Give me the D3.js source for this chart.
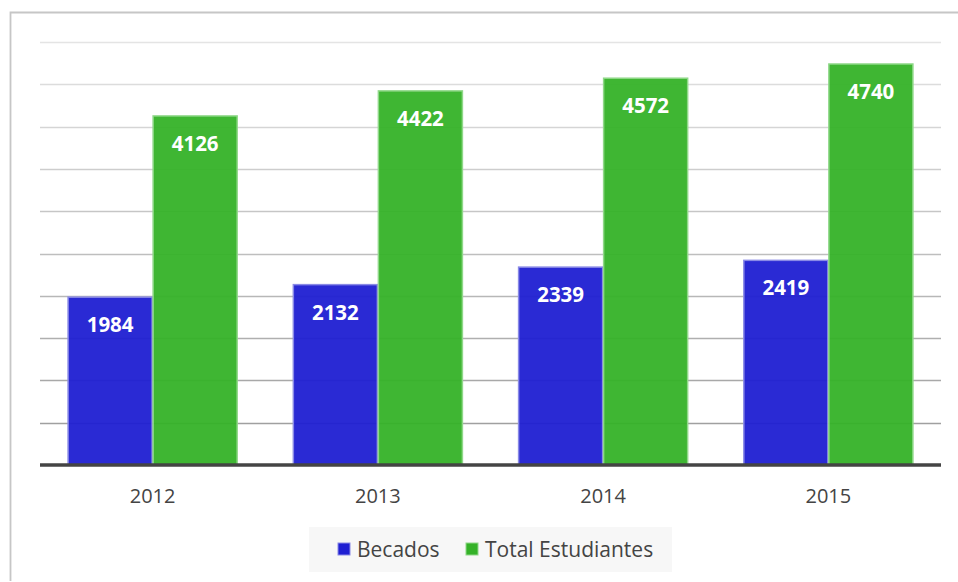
<!DOCTYPE html>
<html>
<head>
<meta charset="utf-8">
<script src="https://cdn.jsdelivr.net/npm/d3@7"></script>
<style>
  html, body { margin: 0; padding: 0; background: #fff; }
  svg { display: block; font-family: "Open Sans", "Noto Sans", sans-serif; }
</style>
</head>
<body>
<svg id="chart" width="958" height="582"></svg>
<script>
// Students with scholarships vs. total students per year
const years = ["2012", "2013", "2014", "2015"];
const becados = [1984, 2132, 2339, 2419];
const totalEstudiantes = [4126, 4422, 4572, 4740];
const seriesNames = ["Becados", "Total Estudiantes"];
const seriesColors = ["#1f1fd2", "#35b228"];
const yTicks = [500, 1000, 1500, 2000, 2500, 3000, 3500, 4000, 4500, 5000];

const series = [becados, totalEstudiantes];

const svg = d3.select("#chart");
const W = 958, H = 582;
const plot = { left: 40, right: 941, top: 42, bottom: 465 };

// outer frame (top and left edges visible)
svg.append("path")
  .attr("d", `M10.5,${H - 1} V12.5 H${W}`)
  .attr("fill", "none")
  .attr("stroke", "#c6c6c6")
  .attr("stroke-width", 1.8);

const x0 = d3.scaleBand()
  .domain(years)
  .range([plot.left, plot.right])
  .paddingInner(0.245)
  .paddingOuter(0.1225);

const x1 = d3.scaleBand()
  .domain(seriesNames)
  .range([0, x0.bandwidth()]);

const y = d3.scaleLinear()
  .domain([0, 5000])
  .range([plot.bottom, plot.top]);

// horizontal grid, getting darker toward the baseline
const gridColor = d3.scaleLinear()
  .domain([5000, 500])
  .range(["#e4e4e4", "#a0a0a0"]);

svg.append("g")
  .selectAll("line")
  .data(yTicks)
  .join("line")
  .attr("x1", plot.left)
  .attr("x2", plot.right)
  .attr("y1", d => Math.round(y(d)) + 0.5)
  .attr("y2", d => Math.round(y(d)) + 0.5)
  .attr("stroke", d => gridColor(d))
  .attr("stroke-width", 1.5);

// bars
const groups = svg.append("g")
  .selectAll("g")
  .data(years)
  .join("g")
  .attr("transform", d => `translate(${x0(d)},0)`);

groups.selectAll("rect")
  .data((d, i) => seriesNames.map((name, s) => ({ name, s, value: series[s][i] })))
  .join("rect")
  .attr("x", d => x1(d.name) + 0.5)
  .attr("width", x1.bandwidth() - 1)
  .attr("y", d => y(d.value))
  .attr("height", d => y(0) - y(d.value))
  .attr("fill", d => seriesColors[d.s])
  .attr("fill-opacity", 0.95)
  .attr("stroke", d => d.s === 0 ? "#8a8ae6" : "#8fd888")
  .attr("stroke-width", 1.5);

// value labels inside the top of each bar
groups.selectAll("text")
  .data((d, i) => seriesNames.map((name, s) => ({ name, s, value: series[s][i] })))
  .join("text")
  .attr("x", d => x1(d.name) + x1.bandwidth() / 2)
  .attr("y", d => y(d.value) + 35)
  .attr("text-anchor", "middle")
  .attr("fill", "#ffffff")
  .attr("font-weight", 700)
  .attr("font-size", 20.5)
  .text(d => d.value);

// baseline
svg.append("line")
  .attr("x1", plot.left)
  .attr("x2", plot.right)
  .attr("y1", plot.bottom)
  .attr("y2", plot.bottom)
  .attr("stroke", "#444")
  .attr("stroke-width", 3.5);

// category axis labels
const xAxis = svg.append("g")
  .attr("transform", `translate(0,${plot.bottom})`)
  .call(d3.axisBottom(x0).tickSize(0).tickPadding(0));
xAxis.select(".domain").remove();
xAxis.selectAll("text")
  .attr("dy", null)
  .attr("y", 38)
  .attr("fill", "#444")
  .attr("font-size", 20)
  .attr("font-family", "\"Open Sans\", sans-serif");

// legend
const legend = svg.append("g");
legend.append("rect")
  .attr("x", 309).attr("y", 527)
  .attr("width", 363).attr("height", 45)
  .attr("fill", "#f7f7f7");

const legendX = [338, 466];
seriesNames.forEach((name, s) => {
  legend.append("rect")
    .attr("x", legendX[s]).attr("y", 543)
    .attr("width", 12).attr("height", 12)
    .attr("fill", seriesColors[s])
    .attr("stroke", s === 0 ? "#8a8ae6" : "#8fd888")
    .attr("stroke-width", 1);
  legend.append("text")
    .attr("x", legendX[s] + 19)
    .attr("y", 557)
    .attr("fill", "#444")
    .attr("font-size", 21)
    .text(name);
});
</script>
</body>
</html>
